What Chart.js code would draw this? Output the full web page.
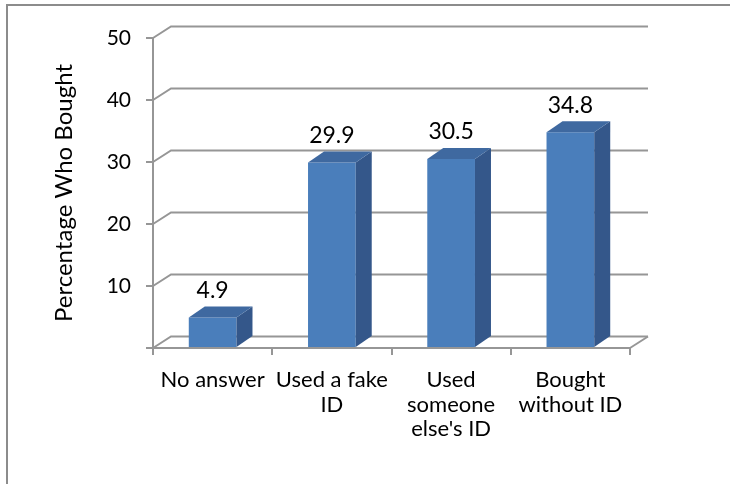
<!DOCTYPE html>
<html>
<head>
<meta charset="utf-8">
<script src="https://cdn.jsdelivr.net/npm/chart.js@4.4.1/dist/chart.umd.min.js"></script>
<style>
    html, body { margin: 0; padding: 0; background: #fff; }
    #wrap { width: 730px; height: 484px; }
</style>
</head>
<body>
<div id="wrap"><canvas id="myChart" width="730" height="484"></canvas></div>
<script>
'use strict';

{
    /*data*/

    const categories = [['No answer'], ['Used a fake', 'ID'], ['Used', 'someone', "else's ID"], ['Bought', 'without ID']];
    const percentBought = [4.9, 29.9, 30.5, 34.8];
    const yTicks = [0, 10, 20, 30, 40, 50];

    /*look*/

    const gridColour = '#969696';
    const frontColour = '#4a7ebb';
    const sideColour = '#34578a';
    const topColour = '#3f69a0';
    const wallDepth = { dx: 18, dy: 11.5 };
    const barDepth = { dx: 16, dy: 11 };
    const fontFamily = 'Lato, "Liberation Sans", sans-serif';

    /*outer frame*/

    const framePlugin = {
        id: 'frame',
        beforeDraw(chart) {
            const ctx = chart.ctx;
            ctx.save();
            ctx.strokeStyle = '#8c8c8c';
            ctx.lineWidth = 2;
            ctx.strokeRect(7, 5, 900, 700);
            ctx.restore();
        }
    };

    /*back wall + floor*/

    const wallPlugin = {
        id: 'wall',
        beforeDatasetsDraw(chart) {
            const { ctx, chartArea } = chart;
            const y = chart.scales.y;
            ctx.save();
            ctx.strokeStyle = gridColour;
            ctx.lineWidth = 2;
            for (let v of yTicks) {
                const py = y.getPixelForValue(v);
                ctx.beginPath();
                ctx.moveTo(chartArea.left, py);
                ctx.lineTo(chartArea.left + wallDepth.dx, py - wallDepth.dy);
                ctx.lineTo(chartArea.right + wallDepth.dx, py - wallDepth.dy);
                ctx.stroke();
            }
            const py0 = y.getPixelForValue(0);
            ctx.beginPath();
            ctx.moveTo(chartArea.right, py0);
            ctx.lineTo(chartArea.right + wallDepth.dx, py0 - wallDepth.dy);
            ctx.stroke();
            ctx.restore();
        }
    };

    /*bar sides, tops and value labels*/

    const boxPlugin = {
        id: 'box',
        afterDatasetsDraw(chart) {
            const ctx = chart.ctx;
            const meta = chart.getDatasetMeta(0);
            ctx.save();
            meta.data.forEach(function(bar, i) {
                const p = bar.getProps(['x', 'y', 'base', 'width'], true);
                const l = p.x - p.width / 2;
                const r = p.x + p.width / 2;
                const dx = barDepth.dx, dy = barDepth.dy;

                ctx.fillStyle = sideColour;
                ctx.beginPath();
                ctx.moveTo(r, p.y);
                ctx.lineTo(r + dx, p.y - dy);
                ctx.lineTo(r + dx, p.base - dy);
                ctx.lineTo(r, p.base);
                ctx.closePath();
                ctx.fill();

                ctx.fillStyle = topColour;
                ctx.beginPath();
                ctx.moveTo(l, p.y);
                ctx.lineTo(l + dx, p.y - dy);
                ctx.lineTo(r + dx, p.y - dy);
                ctx.lineTo(r, p.y);
                ctx.closePath();
                ctx.fill();

                ctx.fillStyle = '#000';
                ctx.font = '23px ' + fontFamily;
                ctx.textAlign = 'center';
                ctx.textBaseline = 'middle';
                ctx.fillText(percentBought[i].toFixed(1), p.x, p.y - dy - 16);
            });
            ctx.restore();
        }
    };

    /*chart*/

    const ctx = document.getElementById('myChart').getContext('2d');

    const chart = new Chart(ctx, {
        type: 'bar',
        data: {
            labels: categories,
            datasets: [{
                label: 'Percentage Who Bought',
                data: percentBought,
                backgroundColor: frontColour,
                borderWidth: 0,
                barPercentage: 0.4,
                categoryPercentage: 1
            }]
        },
        options: {
            responsive: false,
            animation: false,
            devicePixelRatio: 1,
            layout: { padding: { left: 8, top: 38, right: 100, bottom: 0 } },
            plugins: {
                legend: { display: false },
                tooltip: { enabled: false }
            },
            scales: {
                x: {
                    afterFit: function(scale) { scale.height = 136; },
                    grid: { drawOnChartArea: false, tickLength: 7, color: gridColour, lineWidth: 2, offset: true },
                    border: { display: true, color: gridColour, width: 2 },
                    ticks: {
                        color: '#000',
                        padding: 13,
                        maxRotation: 0,
                        autoSkip: false,
                        font: { family: fontFamily, size: 22, lineHeight: '24.5px' }
                    }
                },
                y: {
                    min: 0,
                    max: 50,
                    afterFit: function(scale) { scale.width = 145; },
                    grid: { drawOnChartArea: false, tickLength: 7, color: gridColour, lineWidth: 2 },
                    border: { display: true, color: gridColour, width: 2 },
                    ticks: {
                        stepSize: 10,
                        color: '#000',
                        padding: 15,
                        font: { family: fontFamily, size: 21 },
                        callback: function(v) { return v === 0 ? '' : v; }
                    },
                    title: {
                        display: true,
                        text: 'Percentage Who Bought',
                        color: '#000',
                        font: { family: fontFamily, size: 24 },
                        padding: { top: 42, bottom: 0 }
                    }
                }
            }
        },
        plugins: [framePlugin, wallPlugin, boxPlugin]
    });
}
</script>
</body>
</html>
